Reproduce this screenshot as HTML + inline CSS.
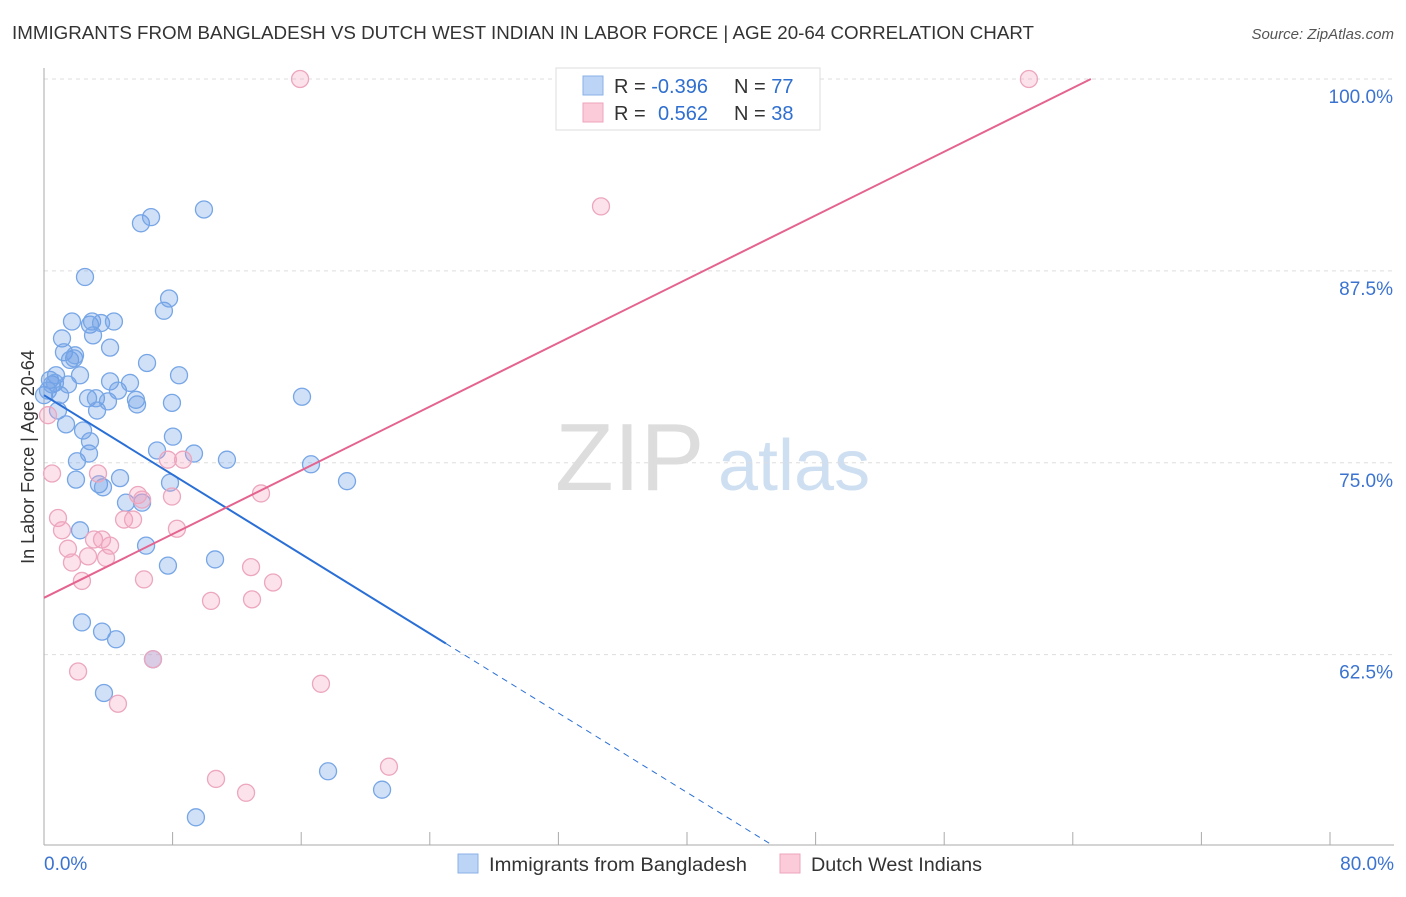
<!DOCTYPE html>
<html><head><meta charset="utf-8"><style>
body{margin:0;background:#fff;font-family:"Liberation Sans",sans-serif}
svg text{font-family:"Liberation Sans",sans-serif}
</style></head><body>
<svg id="chart" width="1406" height="892" viewBox="0 0 1406 892" xmlns="http://www.w3.org/2000/svg">
<text x="12" y="39" font-size="18" fill="#333" textLength="1022" lengthAdjust="spacingAndGlyphs">IMMIGRANTS FROM BANGLADESH VS DUTCH WEST INDIAN IN LABOR FORCE | AGE 20-64 CORRELATION CHART</text>
<text x="1394" y="39" font-size="15" fill="#555" font-style="italic" text-anchor="end">Source: ZipAtlas.com</text>
<text x="34" y="457" font-size="18" fill="#333" text-anchor="middle" transform="rotate(-90 34 457)">In Labor Force | Age 20-64</text>
<g><text x="555" y="490" font-size="96" fill="#ddd" font-family="Liberation Serif">ZIP</text><text x="718" y="490" font-size="72" fill="#cfdff2">atlas</text></g>
<g id="grid"></g><g id="axes"></g><g id="marks"></g><g id="lines"></g>
<g>
<rect x="556" y="68" width="264" height="62" fill="#fff" stroke="#ddd"/>
<rect x="583" y="76" width="20" height="19" fill="#bcd4f5" stroke="#8ab0e8"/>
<rect x="583" y="103" width="20" height="19" fill="#fbcbd9" stroke="#eea5bc"/>
<text x="614" y="93" font-size="20" fill="#333">R = <tspan fill="#2f6fd0">-0.396</tspan><tspan x="734">N = </tspan><tspan fill="#2f6fd0">77</tspan></text>
<text x="614" y="120" font-size="20" fill="#333">R = <tspan x="658" fill="#2f6fd0">0.562</tspan><tspan x="734">N = </tspan><tspan fill="#2f6fd0">38</tspan></text>
</g>
<g>
<rect x="458" y="854" width="20" height="19" fill="#bcd4f5" stroke="#8ab0e8"/>
<text x="489" y="871" font-size="19" fill="#333" textLength="258" lengthAdjust="spacingAndGlyphs">Immigrants from Bangladesh</text>
<rect x="780" y="854" width="20" height="19" fill="#fbcbd9" stroke="#eea5bc"/>
<text x="811" y="871" font-size="19" fill="#333" textLength="171" lengthAdjust="spacingAndGlyphs">Dutch West Indians</text>
</g>
</svg>
<script>
const yTicks=[100,87.5,75,62.5];
const yTickLabels=["100.0%","87.5%","75.0%","62.5%"];
const xEndLabels=["0.0%","80.0%"];
const blueX=[0,0.37,0.5,0.75,0.25,0.68,1.0,0.87,1.12,1.24,1.37,1.49,1.62,1.74,1.87,1.93,1.99,2.05,2.24,2.24,2.36,2.43,2.55,2.74,2.8,2.86,2.86,2.99,3.05,3.23,3.3,3.42,3.55,3.61,3.67,3.73,3.98,4.11,4.11,4.35,4.48,4.6,4.73,5.1,5.35,5.72,5.79,6.03,6.1,6.35,6.41,6.66,6.78,7.03,7.46,7.71,7.78,7.84,7.96,8.02,8.4,9.33,9.45,9.95,10.64,11.38,16.05,16.61,17.67,18.85,21.03];
const blueY=[79.4,80.4,80.1,80.7,79.7,80.2,79.4,78.4,83.1,82.2,77.5,80.1,81.7,84.2,81.8,82.0,73.9,75.1,80.7,70.6,64.6,77.1,87.1,79.2,75.6,76.4,84.0,84.2,83.3,79.2,78.4,73.6,84.1,64.0,73.4,60.0,79.0,82.5,80.3,84.2,63.5,79.7,74.0,72.4,80.2,79.1,78.8,90.6,72.4,69.6,81.5,91.0,62.2,75.8,84.9,68.3,85.7,73.7,78.9,76.7,80.7,75.6,51.9,91.5,68.7,75.2,79.3,74.9,54.9,73.8,53.7];
const pinkX=[15.93,61.27,34.65,0.25,0.5,0.87,1.12,1.49,1.74,2.12,2.36,2.74,3.11,3.36,3.61,3.86,4.11,4.6,4.98,5.54,5.85,6.1,6.22,6.78,7.71,7.96,8.27,8.65,10.39,10.7,12.57,12.88,12.94,13.5,14.25,17.23,21.46];
const pinkY=[100,100,91.7,78.1,74.3,71.4,70.6,69.4,68.5,61.4,67.3,68.9,70.0,74.3,70.0,68.8,69.6,59.3,71.3,71.3,72.9,72.6,67.4,62.2,75.2,72.8,70.7,75.2,66.0,54.4,53.5,68.2,66.1,73.0,67.2,60.6,55.2];
const blueTrend=[79.4,-0.647];
const pinkTrend=[66.2,0.519];
const NS="http://www.w3.org/2000/svg";
const X=v=>44+v*16.075, Y=v=>79+(100-v)*15.35;
function mk(t,a,p){const e=document.createElementNS(NS,t);for(const k in a)e.setAttribute(k,a[k]);document.getElementById(p).appendChild(e);return e;}
yTicks.forEach((t,i)=>{
 const g=mk('line',{x1:44,x2:1394,y1:Y(t),y2:Y(t),stroke:'#ddd','stroke-dasharray':'4,4'},'grid');
 
 
 const l=mk('text',{x:1393,y:Y(t)+24,'font-size':19,fill:'#3b73d0','text-anchor':'end'},'axes');l.textContent=yTickLabels[i];
 
 
});
const ya=mk('line',{x1:44,x2:44,y1:68,y2:845,stroke:'#aaa'},'axes');


const xa=mk('line',{x1:44,x2:1394,y1:845,y2:845,stroke:'#aaa'},'axes');


for(let i=0;i<=10;i++){const t=mk('line',{x1:X(i*8),x2:X(i*8),y1:832,y2:845,stroke:'#aaa'},'axes');
 
 }
[[0,'start'],[80,'end']].forEach((d,i)=>{const t=mk('text',{x:i?1394:44,y:870,'font-size':19,fill:'#3b73d0','text-anchor':d[1]},'axes');t.textContent=xEndLabels[i];
 
 });
blueX.forEach((x,i)=>{const c=mk('circle',{cx:X(x),cy:Y(blueY[i]),r:8.5,fill:'rgba(110,160,230,0.32)',stroke:'#77a6e6','stroke-width':1.3},'marks');
 
 });
pinkX.forEach((x,i)=>{const c=mk('circle',{cx:X(x),cy:Y(pinkY[i]),r:8.5,fill:'rgba(245,160,190,0.3)',stroke:'#eca6be','stroke-width':1.3},'marks');
 
 });
const bf=x=>blueTrend[0]+blueTrend[1]*x, pf=x=>pinkTrend[0]+pinkTrend[1]*x;
const b1=mk('line',{x1:X(0),y1:Y(bf(0)),x2:X(25),y2:Y(bf(25)),stroke:'#2a6fd6','stroke-width':2},'lines');


const xe=(50.1-blueTrend[0])/blueTrend[1];
const b2=mk('line',{x1:X(25),y1:Y(bf(25)),x2:X(xe),y2:Y(bf(xe)),stroke:'#2a6fd6','stroke-width':1,'stroke-dasharray':'6,5'},'lines');


const pe=(100-pinkTrend[0])/pinkTrend[1];
const p1=mk('line',{x1:X(0),y1:Y(pf(0)),x2:X(pe),y2:Y(pf(pe)),stroke:'#e4638f','stroke-width':2},'lines');


</script>
</body></html>
